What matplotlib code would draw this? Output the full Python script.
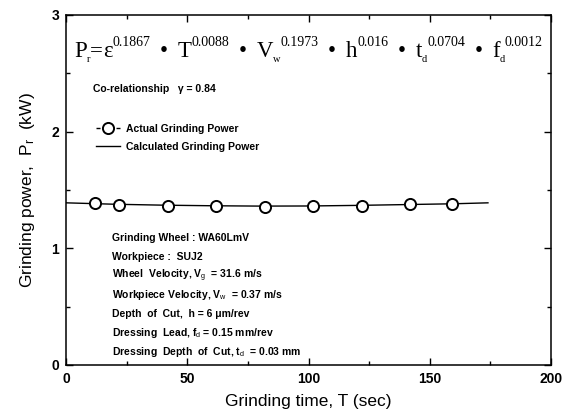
import matplotlib
matplotlib.use("Agg")
import matplotlib.pyplot as plt
from matplotlib.ticker import MultipleLocator
from matplotlib.lines import Line2D

plt.rcParams['font.family'] = ['Liberation Sans', 'DejaVu Sans']
plt.rcParams['mathtext.fontset'] = 'custom'
plt.rcParams['mathtext.rm'] = 'Liberation Sans'
plt.rcParams['mathtext.it'] = 'Liberation Sans:italic'
plt.rcParams['mathtext.sf'] = 'Liberation Sans'
plt.rcParams['mathtext.bf'] = 'Liberation Sans:bold'

# Data
time_actual = [12, 22, 42, 62, 82, 102, 122, 142, 159]
power_actual = [1.386, 1.371, 1.365, 1.362, 1.357, 1.362, 1.365, 1.377, 1.380]
time_calc = [0, 20, 40, 60, 80, 100, 120, 140, 160, 174]
power_calc = [1.390, 1.378, 1.370, 1.365, 1.362, 1.363, 1.368, 1.375, 1.382, 1.390]

x_ticks = [0, 50, 100, 150, 200]
y_ticks = [0, 1, 2, 3]

W, H = 564, 417
fig = plt.figure(figsize=(W / 100, H / 100), dpi=100)
ax = fig.add_axes([66 / W, 52 / H, 485 / W, 350 / H])

ax.plot(time_calc, power_calc, color='black', lw=1.0)
ax.plot(time_actual, power_actual, linestyle='none', marker='o', markersize=8,
        markerfacecolor='white', markeredgecolor='black', markeredgewidth=1.4)

ax.set_xlim(0, 200)
ax.set_ylim(0, 3)
ax.set_xticks(x_ticks)
ax.set_yticks(y_ticks)
ax.xaxis.set_minor_locator(MultipleLocator(25))
ax.yaxis.set_minor_locator(MultipleLocator(0.5))
ax.tick_params(which='both', direction='in', top=True, right=True, width=1)
ax.tick_params(which='major', length=5, labelsize=10, pad=5)
ax.tick_params(which='minor', length=3)
for lab in ax.get_xticklabels() + ax.get_yticklabels():
    lab.set_fontweight('bold')
for s in ax.spines.values():
    s.set_linewidth(1.1)

ax.set_xlabel('Grinding time, T (sec)', fontsize=12.5, labelpad=6)
ax.set_ylabel(r'Grinding power,  P$_{\mathrm{r}}$  (kW)', fontsize=12.5, labelpad=10)

# ---- formula composed of real text pieces ----
BASE, SUP, SUB = 16.5, 10, 7.5
SUP_DY, SUB_DY = 11, -5
# (text, size, vertical offset px, is_bullet)
pieces = [
    ('P', BASE, 0, False), ('r', SUB, SUB_DY, False), ('=', BASE, 0, False), ('ε', BASE, 0, False),
    ('0.1867', SUP, SUP_DY, False), ('•', BASE, 0, True),
    ('T', BASE, 0, False), ('0.0088', SUP, SUP_DY, False), ('•', BASE, 0, True),
    ('V', BASE, 0, False), ('w', SUB, SUB_DY, False), ('0.1973', SUP, SUP_DY, False), ('•', BASE, 0, True),
    ('h', BASE, 0, False), ('0.016', SUP, SUP_DY, False), ('•', BASE, 0, True),
    ('t', BASE, 0, False), ('d', SUB, SUB_DY, False), ('0.0704', SUP, SUP_DY, False), ('•', BASE, 0, True),
    ('f', BASE, 0, False), ('d', SUB, SUB_DY, False), ('0.0012', SUP, SUP_DY, False),
]
x_start, x_end, baseline = 74, 543, H - 57
renderer = fig.canvas.get_renderer()
objs, widths = [], []
for txt, size, dy, _ in pieces:
    t = fig.text(0, 0, txt, fontsize=size, family='Liberation Serif', va='baseline', ha='left')
    objs.append(t)
    widths.append(t.get_window_extent(renderer).width)
n_bullets = sum(1 for p in pieces if p[3])
free = (x_end - x_start) - sum(widths)
gap = max(free / (2 * n_bullets), 1)
x = x_start
for (txt, size, dy, bullet), t, w in zip(pieces, objs, widths):
    if bullet:
        x += gap
    t.set_position((x / W, (baseline + dy) / H))
    x += w
    if bullet:
        x += gap

fig.text(93 / W, (H - 89) / H, 'Co-relationship   γ = 0.84', fontsize=7.5,
         fontweight='bold', va='center', ha='left')

# legend
L_pt = 17.3
a_pt = 2.9
h_act_line = Line2D([], [], color='black', lw=1.0,
                    linestyle=(a_pt, (2 * a_pt, L_pt - 2 * a_pt)))
h_act_mark = Line2D([], [], linestyle='none', marker='o', markersize=8,
                    markerfacecolor='white', markeredgecolor='black', markeredgewidth=1.4)
h_calc = Line2D([], [], color='black', lw=1.0)
leg = ax.legend([(h_act_line, h_act_mark), h_calc],
                ['Actual Grinding Power', 'Calculated Grinding Power'],
                loc='center left', bbox_to_anchor=((96 - 66) / 485, (365 - 138) / 350),
                frameon=False, fontsize=7.5, handlelength=L_pt / 7.5, labelspacing=0.75,
                handletextpad=0.6, borderpad=0, borderaxespad=0)
for t in leg.get_texts():
    t.set_fontweight('bold')

notes = [
    'Grinding Wheel : WA60LmV',
    'Workpiece :  SUJ2',
    r'Wheel  Velocity, V$_{\mathrm{g}}$  = 31.6 m/s',
    r'Workpiece Velocity, V$_{\mathrm{w}}$  = 0.37 m/s',
    'Depth  of  Cut,  h = 6 μm/rev',
    r'Dressing  Lead, f$_{\mathrm{d}}$ = 0.15 mm/rev',
    r'Dressing  Depth  of  Cut, t$_{\mathrm{d}}$  = 0.03 mm',
]
for i, n in enumerate(notes):
    y_px = 238 + 19 * i
    fig.text(112 / W, (H - y_px) / H, n, fontsize=7.5, fontweight='bold',
             va='center', ha='left')

fig.savefig('out.png', dpi=100)
